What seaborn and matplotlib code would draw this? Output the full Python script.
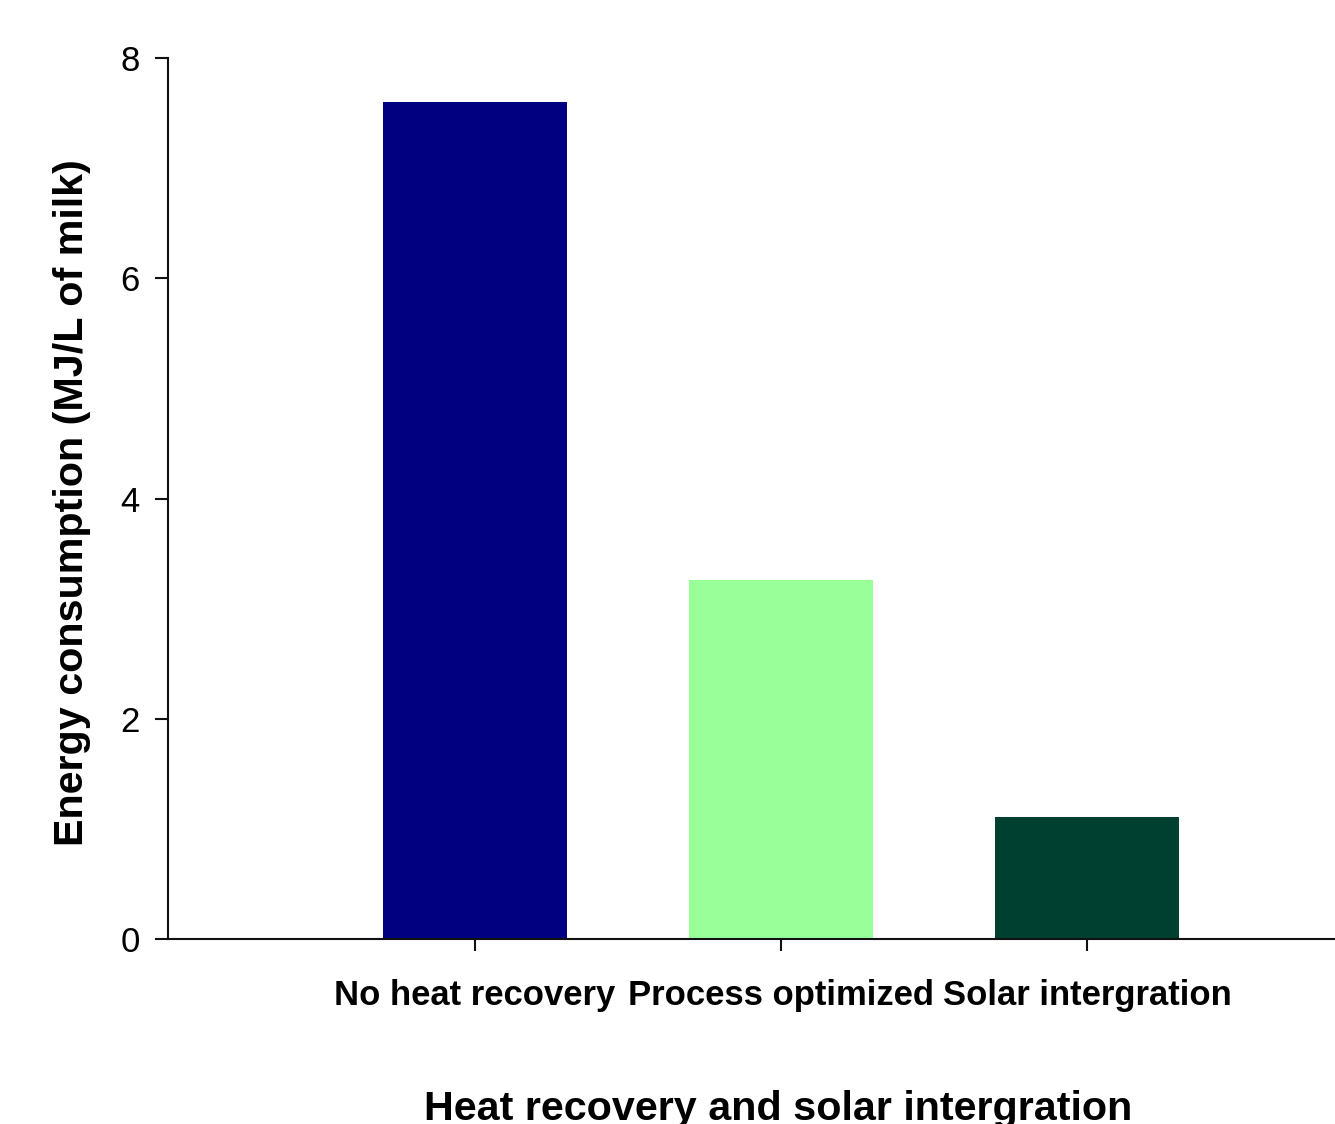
import matplotlib
matplotlib.use("Agg")
import matplotlib.pyplot as plt
import seaborn as sns

# Data
categories = ["No heat recovery", "Process optimized", "Solar intergration"]
energy_mj_per_l = [7.60, 3.26, 1.11]
bar_colors = ["#000080", "#99FF99", "#004030"]
y_ticks = [0, 2, 4, 6, 8]

sns.set_style("ticks")
plt.rcParams["font.family"] = ["Liberation Sans", "DejaVu Sans"]
plt.rcParams["text.color"] = "black"
plt.rcParams["axes.labelcolor"] = "black"

W, H = 1335, 1124
fig = plt.figure(figsize=(W / 100, H / 100), dpi=100)
ax = fig.add_axes([168 / W, 1 - 939 / H, (W - 168) / W, 881 / H])

sns.barplot(x=categories, y=energy_mj_per_l, hue=categories, palette=bar_colors,
            legend=False, width=0.6, saturation=1, linewidth=0, ax=ax)

ax.set_xlim(-1.003, 2.81)
ax.set_ylim(0, 8)
ax.set_yticks(y_ticks)
ax.set_yticklabels([str(t) for t in y_ticks],
                   family=["Liberation Sans Narrow", "Liberation Sans", "DejaVu Sans"],
                   fontsize=25)
ax.set_xticks(range(len(categories)))
ax.set_xticklabels(categories, fontsize=24.9, fontweight="bold")

for side in ("top", "right"):
    ax.spines[side].set_visible(False)
for side in ("left", "bottom"):
    ax.spines[side].set_linewidth(1.5)
    ax.spines[side].set_color("#111111")

ax.tick_params(axis="y", direction="out", length=9.4, width=1.5, pad=11,
               color="#111111", labelcolor="black")
ax.tick_params(axis="x", direction="out", length=8.6, width=1.5, pad=20,
               color="#111111", labelcolor="black")

ax.set_ylabel("Energy consumption (MJ/L of milk)", fontsize=29.7, fontweight="bold")
ax.set_xlabel("Heat recovery and solar intergration", fontsize=29.7, fontweight="bold")
ax.yaxis.set_label_coords(-0.066, 0.495)
ax.xaxis.set_label_coords(0.523, -0.171)

fig.savefig("out.png", dpi=100)
